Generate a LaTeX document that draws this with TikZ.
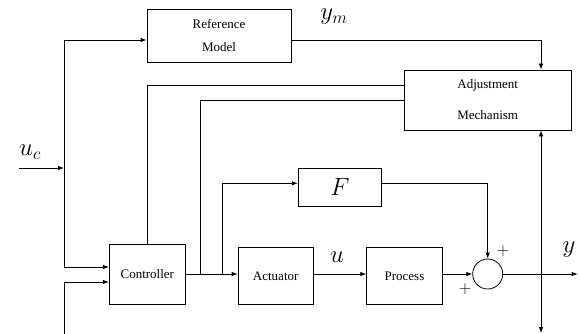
\documentclass[tikz,border=0pt]{standalone}
\usepackage{fontspec}
\setmainfont{Liberation Serif}
\usetikzlibrary{arrows.meta}
\begin{document}
\begin{tikzpicture}[x=1pt,y=-1pt,
  line width=0.8pt,
  blk/.style={draw,rectangle,inner sep=0pt,align=center,font=\fontsize{13}{23}\selectfont},
  lbl/.style={font=\fontsize{25}{25}\selectfont,inner sep=0pt},
  pl/.style={font=\fontsize{17}{17}\selectfont,inner sep=0pt},
  arr/.style={-{Latex[length=6pt,width=4.5pt]}}]
\useasboundingbox (0,0) rectangle (580,334);
\node[blk,minimum width=144pt,minimum height=53pt] (rm) at (219,35.8) {Reference\\Model};
\node[blk,minimum width=166.7pt,minimum height=60pt,font=\fontsize{13}{31}\selectfont] (adj) at (487.7,100) {Adjustment\\Mechanism};
\node[blk,minimum width=76pt,minimum height=60pt] (ctrl) at (147.3,274) {Controller};
\node[blk,minimum width=75.3pt,minimum height=56.3pt] (act) at (275.7,275.9) {Actuator};
\node[blk,minimum width=75.6pt,minimum height=56.3pt] (proc) at (404.5,275.9) {Process};
\node[blk,minimum width=83.4pt,minimum height=37.7pt] (F) at (340,187.2) {\fontsize{25}{25}\selectfont$F$};
\node[draw,circle,minimum size=30pt,inner sep=0pt] (sum) at (487.7,274) {};
% coordinates
\coordinate (ucin) at (19,168);
\coordinate (ucj) at (64,168);
\coordinate (vtop) at (64,40);
\coordinate (vbot) at (64,267);
\coordinate (in2) at (64,334);
\coordinate (in2c) at (64,282);
\coordinate (j1) at (200,274);
\coordinate (j2) at (222.7,274);
\coordinate (j3) at (541,274);
\coordinate (yout) at (577.7,274);
\coordinate (ydown) at (541,333);
% labels
\node[lbl] (uc) at (30,152) {$u_c$};
\node[lbl] (ym) at (334,17) {$y_m$};
\node[lbl] (u) at (337,257) {$u$};
\node[lbl] (y) at (569,250) {$y$};
\node[pl] (p1) at (503,251) {$+$};
\node[pl] (p2) at (465,289.5) {$+$};
% connectors
\draw[arr] (ucin) -- (ucj);
\draw (vtop) -- (vbot);
\draw[arr] (vtop) -- (rm.west |- vtop);
\draw[arr] (vbot) -- (ctrl.west |- vbot);
\draw[arr] (in2) -- (in2c) -- (ctrl.west |- in2c);
\draw[arr] (rm.east |- vtop) -| (adj.north -| j3);
\draw (adj.west |- 0,85) -| (ctrl.north);
\draw (adj.west |- 0,100) -| (j1);
\draw[arr] (ctrl.east) -- (act.west |- ctrl.east);
\draw[arr] (j2) |- (F.west |- 0,183.3);
\draw[arr] (F.east |- 0,183.3) -| (sum.north);
\draw[arr] (act.east |- sum) -- (proc.west |- sum);
\draw[arr] (proc.east |- sum) -- (sum.west);
\draw[arr] (sum.east) -- (yout);
\draw[arr] (j3) -- (adj.south -| j3);
\draw[arr] (j3) -- (ydown);
\end{tikzpicture}
\end{document}
